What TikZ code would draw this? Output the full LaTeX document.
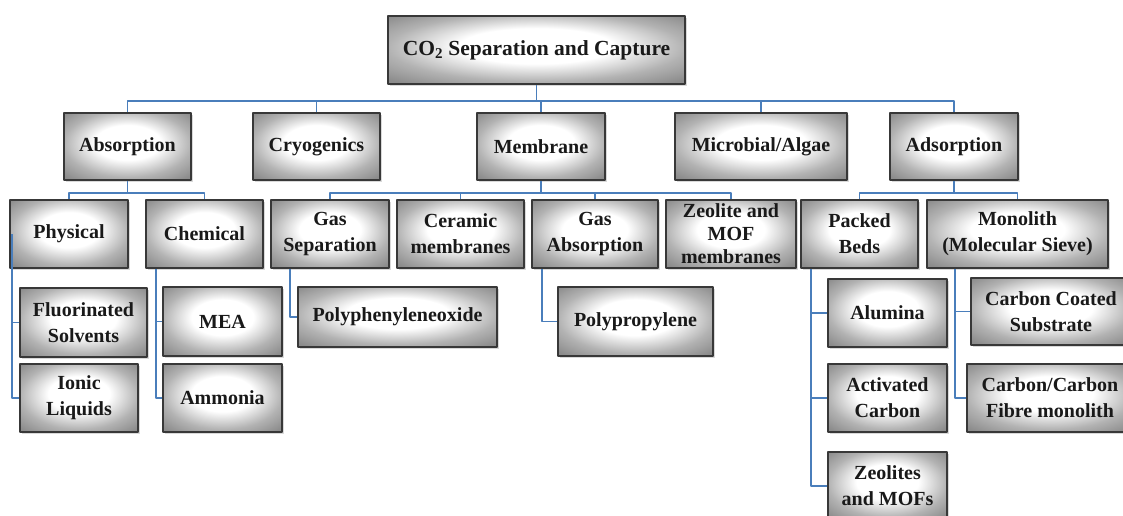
\documentclass[tikz,border=0pt]{standalone}
\usepackage{fontspec}
\setmainfont{Liberation Serif}
\usetikzlibrary{shadows}
\definecolor{linkblue}{HTML}{4A7EBB}
\definecolor{boxline}{HTML}{383838}
\pgfdeclareradialshading{bevel}{\pgfpoint{0bp}{4bp}}{color(0bp)=(white); color(13bp)=(white); color(25bp)=(black!30); color(34bp)=(black!45); color(50bp)=(black!50)}
\begin{document}
\begin{tikzpicture}[x=1pt,y=-1pt,line join=round,
  box/.style={draw=boxline,line width=2.2pt,shade,shading=bevel,
    drop shadow={shadow xshift=2pt,shadow yshift=-2pt,opacity=.3},
    minimum height=68pt,inner sep=0pt,align=center,text=black!90,
    font=\fontsize{20}{26}\selectfont\bfseries},
  link/.style={draw=linkblue,line width=1.6pt}]
\clip (0,0) rectangle (1123,516);
% top
\node[box,minimum width=297pt,font=\fontsize{21.5}{26}\selectfont\bfseries] (root) at (536.5,50) {CO\textsubscript{2} Separation and Capture};
% first level
\node[box,minimum width=127pt,minimum height=67pt] (abs) at (127.5,146.5) {Absorption};
\node[box,minimum width=127pt,minimum height=67pt] (cryo) at (316.5,146.5) {Cryogenics};
\node[box,minimum width=128pt,minimum height=67pt] (mem) at (541,146.5) {Membrane};
\node[box,minimum width=172pt,minimum height=67pt] (mic) at (761,146.5) {Microbial/Algae};
\node[box,minimum width=128pt,minimum height=67pt] (ads) at (954,146.5) {Adsorption};
% second level
\node[box,minimum width=118pt] (phys) at (69,234) {Physical};
\node[box,minimum width=117pt] (chem) at (204.5,234) {Chemical};
\node[box,minimum width=118pt] (gsep) at (330,234) {Gas\\Separation};
\node[box,minimum width=127pt] (cer) at (460.5,234) {Ceramic\\membranes};
\node[box,minimum width=126pt] (gabs) at (595,234) {Gas\\Absorption};
\node[box,minimum width=130pt,font=\fontsize{20}{23}\selectfont\bfseries] (zmof) at (731,234) {Zeolite and\\MOF\\membranes};
\node[box,minimum width=117pt] (pack) at (859.5,234) {Packed\\Beds};
\node[box,minimum width=181pt] (mono) at (1017.5,234) {Monolith\\(Molecular Sieve)};
% third level
\node[box,minimum width=127pt,minimum height=69pt] (fluor) at (83.5,322.5) {Fluorinated\\Solvents};
\node[box,minimum width=118pt] (ionic) at (79,398) {Ionic\\Liquids};
\node[box,minimum width=119pt,minimum height=69pt] (mea) at (222.5,321.5) {MEA};
\node[box,minimum width=119pt] (amm) at (222.5,398) {Ammonia};
\node[box,minimum width=199pt,minimum height=60pt] (ppo) at (397.5,317) {Polyphenyleneoxide};
\node[box,minimum width=155pt,minimum height=69pt] (pp) at (635.5,321.5) {Polypropylene};
\node[box,minimum width=119pt] (alu) at (887.5,313) {Alumina};
\node[box,minimum width=119pt] (act) at (887.5,398) {Activated\\Carbon};
\node[box,minimum width=119pt] (zeo) at (887.5,486) {Zeolites\\and MOFs};
\node[box,minimum width=160pt,minimum height=67pt] (ccs) at (1051,311.5) {Carbon Coated\\Substrate};
\node[box,minimum width=166pt] (ccf) at (1050,398) {Carbon/Carbon\\Fibre monolith};
% connectors
\foreach \n in {abs,cryo,mem,mic,ads}
  \draw[link] (root.south) -- ++(0,16) -| (\n.north);
\foreach \n in {phys,chem}
  \draw[link] (abs.south) -- ++(0,12) -| (\n.north);
\foreach \n in {gsep,cer,gabs,zmof}
  \draw[link] (mem.south) -- ++(0,12) -| (\n.north);
\foreach \n in {pack,mono}
  \draw[link] (ads.south) -- ++(0,12) -| (\n.north);
\foreach \n in {fluor,ionic}
  \draw[link] ([xshift=3pt]phys.west) |- (\n.west);
\foreach \n in {mea,amm}
  \draw[link] ([xshift=11pt]chem.south west) |- (\n.west);
\draw[link] ([xshift=20pt]gsep.south west) |- (ppo.west);
\draw[link] ([xshift=11pt]gabs.south west) |- (pp.west);
\foreach \n in {alu,act,zeo}
  \draw[link] ([xshift=11pt]pack.south west) |- (\n.west);
\foreach \n in {ccs,ccf}
  \draw[link] ([xshift=29pt]mono.south west) |- (\n.west);
\end{tikzpicture}
\end{document}
